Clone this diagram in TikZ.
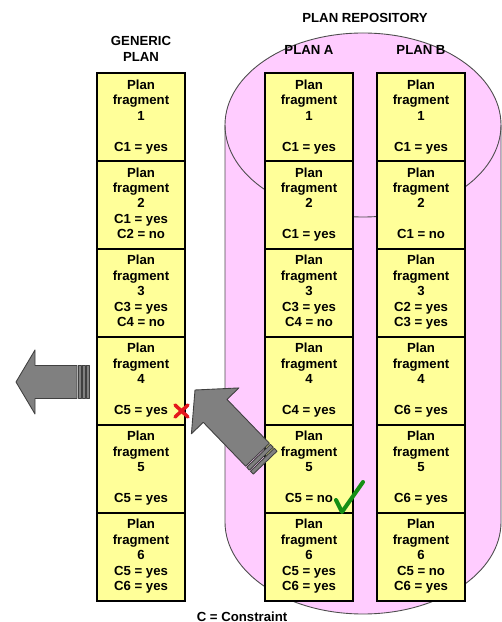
\documentclass[tikz,border=0pt]{standalone}
\usepackage{fontspec}
\setmainfont{Liberation Sans}
\usepackage{tikz}
\usetikzlibrary{positioning}
\definecolor{fragyellow}{HTML}{FFFF99}
\definecolor{repopink}{HTML}{FFCCFF}
\definecolor{arrowgray}{HTML}{808080}
\definecolor{crossred}{HTML}{E4181C}
\definecolor{tickgreen}{HTML}{158F15}

\begin{document}
\begin{tikzpicture}[
  x=0.02cm, y=0.02cm,
  font=\bfseries\fontsize{7.5pt}{8.82pt}\selectfont,
  node distance=0pt,
  frag/.style={draw,line width=0.9pt,fill=fragyellow,minimum width=1.76cm,minimum height=1.76cm,inner sep=0pt,outer sep=0pt,align=center,
    execute at begin node={\rule{0pt}{8.5pt}},execute at end node={\rule[-2pt]{0pt}{2pt}}},
  head/.style={inner sep=0pt,align=center},
  repo/.style={fill=repopink,draw=black!70,line width=0.5pt},
  bigarrow/.style={fill=arrowgray,draw=black!75,line width=0.5pt,line join=round},
]
\useasboundingbox (0,0) rectangle (502,622);
\path[repo] (225,497) -- (225,100) arc[start angle=180,end angle=360,x radius=138,y radius=92] -- (501,497) arc[start angle=0,end angle=180,x radius=138,y radius=92] -- cycle;
\draw[repo,fill=none] (225,497) arc[start angle=180,end angle=360,x radius=138,y radius=92];
\node[frag] (g1) at (141,505) {Plan\\fragment\\1\\~\\C1 = yes};
\node[frag,below=of g1] (g2) {Plan\\fragment\\2\\C1 = yes\\C2 = no};
\node[frag,below=of g2] (g3) {Plan\\fragment\\3\\C3 = yes\\C4 = no};
\node[frag,below=of g3] (g4) {Plan\\fragment\\4\\~\\C5 = yes};
\node[frag,below=of g4] (g5) {Plan\\fragment\\5\\~\\C5 = yes};
\node[frag,below=of g5] (g6) {Plan\\fragment\\6\\C5 = yes\\C6 = yes};
\node[frag] (a1) at (309,505) {Plan\\fragment\\1\\~\\C1 = yes};
\node[frag,below=of a1] (a2) {Plan\\fragment\\2\\~\\C1 = yes};
\node[frag,below=of a2] (a3) {Plan\\fragment\\3\\C3 = yes\\C4 = no};
\node[frag,below=of a3] (a4) {Plan\\fragment\\4\\~\\C4 = yes};
\node[frag,below=of a4] (a5) {Plan\\fragment\\5\\~\\C5 = no};
\node[frag,below=of a5] (a6) {Plan\\fragment\\6\\C5 = yes\\C6 = yes};
\node[frag] (b1) at (421,505) {Plan\\fragment\\1\\~\\C1 = yes};
\node[frag,below=of b1] (b2) {Plan\\fragment\\2\\~\\C1 = no};
\node[frag,below=of b2] (b3) {Plan\\fragment\\3\\C2 = yes\\C3 = yes};
\node[frag,below=of b3] (b4) {Plan\\fragment\\4\\~\\C6 = yes};
\node[frag,below=of b4] (b5) {Plan\\fragment\\5\\~\\C6 = yes};
\node[frag,below=of b5] (b6) {Plan\\fragment\\6\\C5 = no\\C6 = yes};
\node[head] (repotitle) at (365,604) {PLAN REPOSITORY};
\node[head,above=2.3mm of g1] (generic) {GENERIC\\PLAN};
\node[head,above=3.7mm of a1] (plana) {PLAN A};
\node[head,above=3.7mm of b1] (planb) {PLAN B};
\node[head] (legend) at (242,5) {C = Constraint};
\draw[bigarrow] (16,240) -- (35,272) -- (35,256.5) -- (77,256.5) -- (77,223.5) -- (35,223.5) -- (35,208) -- cycle;
\draw[bigarrow] (78,223.5) rectangle (81,256.5);
\draw[bigarrow] (82,223.5) rectangle (85,256.5);
\draw[bigarrow] (86,223.5) rectangle (89,256.5);
\begin{scope}[shift={(195,232)},rotate=-46]
\draw[bigarrow] (0,0) -- (29,33) -- (29,16.5) -- (90,16.5) -- (90,-16.5) -- (29,-16.5) -- (29,-33) -- cycle;
\draw[bigarrow] (91.5,-16.5) rectangle (95.5,16.5);
\draw[bigarrow] (97,-16.5) rectangle (101,16.5);
\end{scope}
\draw[crossred,line width=2pt,line cap=round] (175,217) -- (188,205) (175,205) -- (188,217);
\draw[tickgreen,line width=2.3pt,line cap=round,line join=round] (336,122) -- (342,110) -- (363,140);
\end{tikzpicture}
\end{document}
